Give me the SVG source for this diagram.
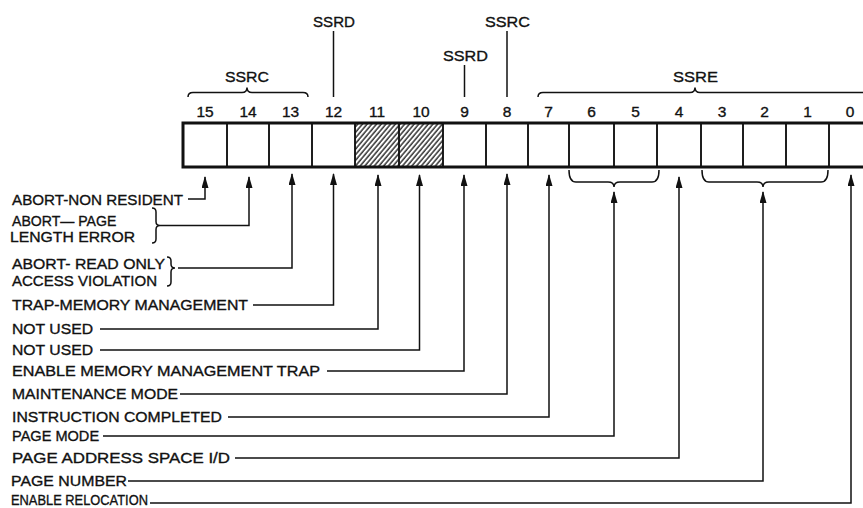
<svg xmlns="http://www.w3.org/2000/svg" width="863" height="508" viewBox="0 0 863 508">
<defs>
<style>
text{font-family:"Liberation Sans",Arial,sans-serif;font-size:15.5px;fill:#111;stroke:#111;stroke-width:0.35;}
.num{text-anchor:middle;}
.cell{fill:none;stroke:#111;stroke-width:1.5;}
.frame{fill:none;stroke:#111;stroke-width:3;}
.ln{fill:none;stroke:#111;stroke-width:1.5;}
.br{fill:none;stroke:#111;stroke-width:1.5;}
.conn{fill:none;stroke:#111;stroke-width:1.5;marker-end:url(#arr);}
</style>
<pattern id="hatch" patternUnits="userSpaceOnUse" width="3.6" height="10" patternTransform="rotate(40)">
<line x1="1" y1="0" x2="1" y2="10" stroke="#111" stroke-width="1.3"/>
</pattern>
<marker id="arr" viewBox="0 0 12 7" refX="11" refY="3.5" markerWidth="12" markerHeight="7" markerUnits="userSpaceOnUse" orient="auto">
<path d="M0,0 L12,3.5 L0,7 z" fill="#111"/>
</marker>
</defs>
<rect width="863" height="508" fill="#fff"/>

<!-- top field labels -->
<g id="top-ssrc-left"><text x="247" y="82" class="num" textLength="44" lengthAdjust="spacingAndGlyphs">SSRC</text>
<path class="br" d="M188,97 Q188,92.5 193,92.5 L242,92.5 Q247,92.5 247,87.5 Q247,92.5 252,92.5 L303,92.5 Q308,92.5 308,97"/></g>
<g id="top-ssrd-12"><text x="334" y="27" class="num" textLength="42" lengthAdjust="spacingAndGlyphs">SSRD</text>
<line class="ln" x1="333.5" y1="31" x2="333.5" y2="97"/></g>
<g id="top-ssrd-9"><text x="465.5" y="61" class="num" textLength="45" lengthAdjust="spacingAndGlyphs">SSRD</text>
<line class="ln" x1="464.5" y1="65" x2="464.5" y2="97"/></g>
<g id="top-ssrc-8"><text x="507.5" y="27" class="num" textLength="45" lengthAdjust="spacingAndGlyphs">SSRC</text>
<line class="ln" x1="507" y1="31" x2="507" y2="97"/></g>
<g id="top-ssre"><text x="695.5" y="82" class="num" textLength="45" lengthAdjust="spacingAndGlyphs">SSRE</text>
<path class="br" d="M538,97 Q538,92.5 543,92.5 L690,92.5 Q695,92.5 695,87.5 Q695,92.5 700,92.5 L868,92.5 Q873,92.5 873,97"/></g>

<!-- register cells -->
<g id="bit-15"><rect class="cell" x="183" y="123" width="44" height="44"/><text class="num" x="205" y="117">15</text></g>
<g id="bit-14"><rect class="cell" x="227" y="123" width="42" height="44"/><text class="num" x="248" y="117">14</text></g>
<g id="bit-13"><rect class="cell" x="269" y="123" width="43" height="44"/><text class="num" x="290.5" y="117">13</text></g>
<g id="bit-12"><rect class="cell" x="312" y="123" width="43" height="44"/><text class="num" x="333.5" y="117">12</text></g>
<g id="bit-11"><rect class="cell" x="355" y="123" width="44" height="44" style="fill:url(#hatch)"/><text class="num" x="377" y="117">11</text></g>
<g id="bit-10"><rect class="cell" x="399" y="123" width="44" height="44" style="fill:url(#hatch)"/><text class="num" x="421" y="117">10</text></g>
<g id="bit-9"><rect class="cell" x="443" y="123" width="43" height="44"/><text class="num" x="464.5" y="117">9</text></g>
<g id="bit-8"><rect class="cell" x="486" y="123" width="42" height="44"/><text class="num" x="507" y="117">8</text></g>
<g id="bit-7"><rect class="cell" x="528" y="123" width="41" height="44"/><text class="num" x="548.5" y="117">7</text></g>
<g id="bit-6"><rect class="cell" x="569" y="123" width="45" height="44"/><text class="num" x="591.5" y="117">6</text></g>
<g id="bit-5"><rect class="cell" x="614" y="123" width="43" height="44"/><text class="num" x="635.5" y="117">5</text></g>
<g id="bit-4"><rect class="cell" x="657" y="123" width="44" height="44"/><text class="num" x="679" y="117">4</text></g>
<g id="bit-3"><rect class="cell" x="701" y="123" width="42" height="44"/><text class="num" x="722" y="117">3</text></g>
<g id="bit-2"><rect class="cell" x="743" y="123" width="43" height="44"/><text class="num" x="764.5" y="117">2</text></g>
<g id="bit-1"><rect class="cell" x="786" y="123" width="43" height="44"/><text class="num" x="807.5" y="117">1</text></g>
<g id="bit-0"><rect class="cell" x="829" y="123" width="43" height="44"/><text class="num" x="850" y="117">0</text></g>
<path class="frame" d="M875,123 H183 V167 H875"/>

<!-- bottom group braces -->
<g id="brace-6-5"><path class="br" d="M569,170 Q569,182 576,182 L608,182 Q614,182 614,187 Q614,182 620,182 L652,182 Q659,182 659,170"/></g>
<g id="brace-3-1"><path class="br" d="M702,170 Q702,182 709,182 L757,182 Q763,182 763,187 Q763,182 769,182 L821,182 Q828,182 828,170"/></g>

<!-- labels -->
<g id="label-abort-non-resident"><text x="12" y="205" textLength="171" lengthAdjust="spacingAndGlyphs">ABORT-NON RESIDENT</text></g>
<g id="label-abort-page-length">
<text transform="translate(12,226) scale(0.91,1)">ABORT— PAGE</text>
<text x="10" y="242" textLength="125" lengthAdjust="spacingAndGlyphs">LENGTH ERROR</text>
<path class="br" d="M152,208 Q156,208 156,212 L156,221.5 Q156,225.5 160,225.5 Q156,225.5 156,229.5 L156,239 Q156,243 152,243"/></g>
<g id="label-abort-read-only">
<text x="12" y="268.5" textLength="153" lengthAdjust="spacingAndGlyphs">ABORT- READ ONLY</text>
<text x="12" y="286" textLength="145" lengthAdjust="spacingAndGlyphs">ACCESS VIOLATION</text>
<path class="br" d="M167,257 Q171,257 171,261 L171,264 Q171,268 175,268 Q171,268 171,272 L171,282 Q171,286 167,286"/></g>
<g id="label-trap-mm"><text x="12" y="310" textLength="236" lengthAdjust="spacingAndGlyphs">TRAP-MEMORY MANAGEMENT</text></g>
<g id="label-not-used-11"><text x="12" y="334" textLength="81" lengthAdjust="spacingAndGlyphs">NOT  USED</text></g>
<g id="label-not-used-10"><text x="12" y="355" textLength="81" lengthAdjust="spacingAndGlyphs">NOT  USED</text></g>
<g id="label-enable-mm-trap"><text x="12" y="376" textLength="308" lengthAdjust="spacingAndGlyphs">ENABLE MEMORY MANAGEMENT TRAP</text></g>
<g id="label-maintenance"><text x="12" y="399" textLength="166" lengthAdjust="spacingAndGlyphs">MAINTENANCE MODE</text></g>
<g id="label-instruction"><text x="12" y="422" textLength="210" lengthAdjust="spacingAndGlyphs">INSTRUCTION COMPLETED</text></g>
<g id="label-page-mode"><text transform="translate(12,441) scale(0.94,1)">PAGE MODE</text></g>
<g id="label-page-address"><text x="12" y="463" textLength="218" lengthAdjust="spacingAndGlyphs">PAGE ADDRESS SPACE I/D</text></g>
<g id="label-page-number"><text x="11" y="486" textLength="116" lengthAdjust="spacingAndGlyphs">PAGE NUMBER</text></g>
<g id="label-enable-relocation"><text transform="translate(11,505) scale(0.83,1)">ENABLE RELOCATION</text></g>

<!-- connectors -->
<g id="connectors">
<path class="conn" d="M188,199 H205 V177"/>
<path class="conn" d="M160,225.5 H249 V177"/>
<path class="conn" d="M178,268 H292 V174"/>
<path class="conn" d="M253,305 H333.5 V174"/>
<path class="conn" d="M100,329 H378 V175"/>
<path class="conn" d="M100,350 H419.5 V175"/>
<path class="conn" d="M327,371 H464 V175"/>
<path class="conn" d="M180,394 H507 V174"/>
<path class="conn" d="M228,417 H549 V175"/>
<path class="conn" d="M103,436 H614 V192"/>
<path class="conn" d="M235,458 H679 V177"/>
<path class="conn" d="M128,481 H763 V192"/>
<path class="conn" d="M150,503 H851 V175"/>
</g>
</svg>
